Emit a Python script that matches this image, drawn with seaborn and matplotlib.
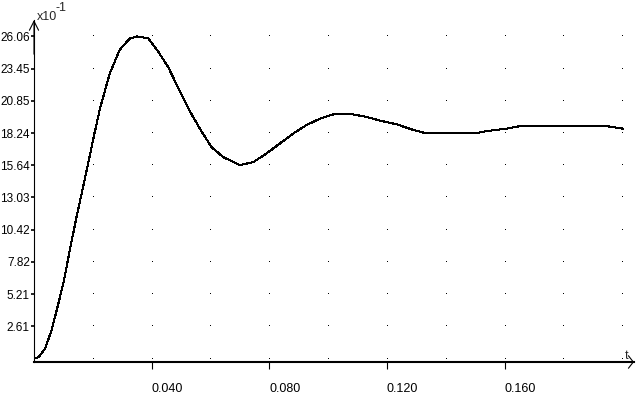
#Step response chart in Seaborn
import matplotlib
matplotlib.use('Agg')
import matplotlib.pyplot as plt
import numpy as np
import seaborn as sns

# data (y in units of 1e-1)
t = [0, 0.0015, 0.0037, 0.006, 0.0077, 0.010, 0.0122, 0.0145, 0.0168, 0.0185,
     0.0202, 0.0224, 0.0258, 0.0292, 0.0326, 0.0351, 0.0389, 0.0423, 0.0456, 0.049,
     0.053, 0.057, 0.0604, 0.0643, 0.070, 0.0746, 0.0791, 0.0836, 0.0881, 0.0927,
     0.0972, 0.1017, 0.1085, 0.1131, 0.1176, 0.1233, 0.1289, 0.1329, 0.1505, 0.1539,
     0.1607, 0.1652, 0.1947, 0.2003]
y = [0, 0.1, 0.77, 2.3, 3.9, 6.1, 8.8, 11.5, 14.0, 15.9,
     17.8, 20.2, 23.1, 25.0, 25.9, 26.06, 25.9, 24.8, 23.6, 21.9,
     20.0, 18.35, 17.1, 16.3, 15.65, 15.9, 16.6, 17.4, 18.2, 18.9,
     19.4, 19.75, 19.75, 19.55, 19.25, 18.95, 18.5, 18.25, 18.25, 18.4,
     18.6, 18.8, 18.8, 18.6]

y_ticks = [2.61, 5.21, 7.82, 10.42, 13.03, 15.64, 18.24, 20.85, 23.45, 26.06]
y_labels = ['2.61', '5.21', '7.82', '10.42', '13.03', '15.64', '18.24', '20.85', '23.45', '26.06']
x_ticks = [0.04, 0.08, 0.12, 0.16]
x_labels = ['0.040', '0.080', '0.120', '0.160']
grid_x = [0.02, 0.04, 0.06, 0.08, 0.10, 0.12, 0.14, 0.16, 0.18, 0.20]

sns.set_style('ticks')
plt.rcParams['font.family'] = ['Liberation Sans', 'DejaVu Sans']

fig = plt.figure(figsize=(6.4, 4.04), dpi=100)
ax = fig.add_axes([34/640, 42/404, 600/640, 342/404])

# dotted grid: one pixel at every crossing
gx, gy = np.meshgrid(grid_x, [0] + y_ticks)
ax.plot(gx.ravel(), gy.ravel(), ',', color='black')

sns.lineplot(x=t, y=y, color='black', linewidth=0.75, ax=ax, antialiased=False)

ax.set_xlim(0, 0.204)
ax.set_ylim(-0.28, 27.39)

ax.spines[['top', 'right']].set_visible(False)
ax.spines['left'].set_linewidth(0.8)
ax.spines['bottom'].set_linewidth(1.5)
for s in ['left', 'bottom']:
    ax.spines[s].set_color('black')

ax.set_yticks(y_ticks)
ax.set_yticklabels(y_labels)
ax.set_xticks(x_ticks)
ax.set_xticklabels(x_labels, ha='left')
ax.tick_params(axis='y', direction='out', length=2, width=1.2, pad=1,
               labelsize=8.5, colors='black')
ax.tick_params(axis='x', direction='out', length=5, width=0.8, pad=10,
               labelsize=9, colors='black')
ax.set_xlabel('')
ax.set_ylabel('')

# axis arrows
ax.annotate('', xy=(0, 1), xycoords='axes fraction', xytext=(0, 0.9),
            arrowprops=dict(arrowstyle='->,head_length=0.65,head_width=0.33',
                            lw=0.8, color='black', shrinkA=0, shrinkB=0))
ax.annotate('', xy=(1, 0), xycoords='axes fraction', xytext=(0.95, 0),
            arrowprops=dict(arrowstyle='->,head_length=0.35,head_width=0.45',
                            lw=0.8, color='black', shrinkA=0, shrinkB=0))

# axis names
fig.text(37/640, 1 - 20/404, 'x10', fontsize=9, va='baseline', ha='left')
fig.text(55/640, 1 - 11/404, '-1', fontsize=9, va='baseline', ha='left')
fig.text(625/640, 42/404, 't', fontsize=9, va='bottom', ha='left')

fig.savefig('out.png', dpi=100, facecolor='white')
